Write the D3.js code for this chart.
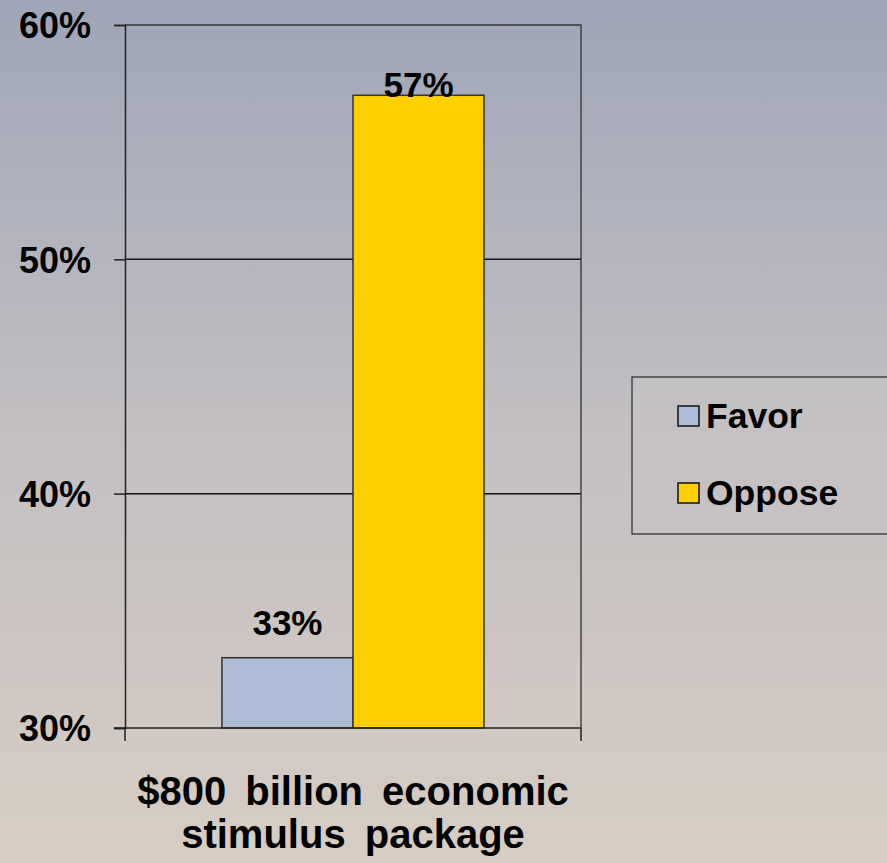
<!DOCTYPE html>
<html>
<head>
<meta charset="utf-8">
<script src="https://cdn.jsdelivr.net/npm/d3@7"></script>
<style>
  html, body { margin: 0; padding: 0; }
  body { width: 887px; height: 863px; overflow: hidden; }
  svg { display: block; font-family: "Liberation Sans", Arial, sans-serif; }
</style>
</head>
<body>
<svg id="chart" width="887" height="863"></svg>
<script>
// Poll results: share favoring / opposing the stimulus package
const categories = ["$800 billion economic stimulus package"];
const seriesNames = ["Favor", "Oppose"];
const favorValues = [33];
const opposeValues = [57];
const seriesColors = ["#adbcd7", "#ffd000"];
const yTicks = [30, 40, 50, 60];
const categoryLines = ["$800 billion economic", "stimulus package"];

const svg = d3.select("#chart");
const W = 887, H = 863;

// Background gradient: cool gray-blue at the top, warm beige at the bottom
const defs = svg.append("defs");
const grad = defs.append("linearGradient")
  .attr("id", "bg").attr("x1", 0).attr("y1", 0).attr("x2", 0).attr("y2", 1);
grad.append("stop").attr("offset", "0%").attr("stop-color", "#9ea5b8");
grad.append("stop").attr("offset", "50%").attr("stop-color", "#c3bfc2");
grad.append("stop").attr("offset", "100%").attr("stop-color", "#d7cdc3");
svg.append("rect").attr("width", W).attr("height", H).attr("fill", "url(#bg)");

const plot = { left: 125, right: 581, top: 25, bottom: 728 };

const y = d3.scaleLinear().domain([30, 60]).range([plot.bottom, plot.top]);
const x = d3.scaleBand().domain(categories).range([plot.left, plot.right]).paddingInner(0).paddingOuter(0);
const xs = d3.scaleBand().domain(seriesNames).range([0, x.bandwidth()]).paddingInner(0).paddingOuter(0.74);

const g = svg.append("g");

// Horizontal gridlines
g.selectAll("line.grid").data(yTicks.filter(t => t > 30 && t < 60)).join("line")
  .attr("class", "grid")
  .attr("x1", plot.left).attr("x2", plot.right)
  .attr("y1", d => y(d)).attr("y2", d => y(d))
  .attr("stroke", "#111").attr("stroke-width", 1.5);

// Plot frame (top and right edges)
g.append("path")
  .attr("d", `M${plot.left},${plot.top}H${plot.right}V${plot.bottom}`)
  .attr("fill", "none").attr("stroke", "#333").attr("stroke-width", 1.3);

// Bars with value labels; a label never rises above a fixed line under the frame top
const labelCeiling = plot.top + 72;
const rows = categories.map((c, i) => ({ cat: c, vals: [favorValues[i], opposeValues[i]] }));
rows.forEach(r => {
  r.vals.forEach((v, j) => {
    const bx = x(r.cat) + xs(seriesNames[j]);
    g.append("rect")
      .attr("x", bx).attr("y", y(v))
      .attr("width", xs.bandwidth()).attr("height", y(30) - y(v))
      .attr("fill", seriesColors[j])
      .attr("stroke", "#333").attr("stroke-width", 1.5);
    g.append("text")
      .attr("x", bx + xs.bandwidth() / 2).attr("y", Math.max(y(v) - 23, labelCeiling))
      .attr("text-anchor", "middle")
      .attr("font-size", 35).attr("font-weight", "bold").attr("fill", "#000")
      .text(v + "%");
  });
});

// Y axis
const yAxis = d3.axisLeft(y).tickValues(yTicks).tickFormat(d => d + "%").tickSize(11).tickPadding(22);
const ya = svg.append("g").attr("transform", `translate(${plot.left},0)`).call(yAxis);
ya.select(".domain").attr("stroke", "#222").attr("stroke-width", 1.5);
ya.selectAll(".tick line").attr("stroke", "#222").attr("stroke-width", 1.5);
ya.selectAll(".tick text")
  .attr("font-size", 36).attr("font-weight", "bold").attr("fill", "#000")
  .attr("font-family", "'Liberation Sans', Arial, sans-serif")
  .attr("text-anchor", "end").attr("x", -34).attr("dy", "0.36em");

// X axis baseline with boundary ticks
const xa = svg.append("g");
xa.append("line")
  .attr("x1", plot.left - 11).attr("x2", plot.right)
  .attr("y1", plot.bottom).attr("y2", plot.bottom)
  .attr("stroke", "#222").attr("stroke-width", 1.5);
[x(categories[0]), x(categories[0]) + x.bandwidth()].forEach(px => {
  xa.append("line")
    .attr("x1", px).attr("x2", px)
    .attr("y1", plot.bottom).attr("y2", plot.bottom + 13)
    .attr("stroke", "#222").attr("stroke-width", 1.5);
});

// Category label (two lines)
const cx = x(categories[0]) + x.bandwidth() / 2;
const catText = svg.append("text")
  .attr("x", cx).attr("y", 805)
  .attr("text-anchor", "middle")
  .attr("font-size", 40).attr("font-weight", "bold").attr("fill", "#000")
  .attr("word-spacing", 8);
catText.selectAll("tspan").data(categoryLines).join("tspan")
  .attr("x", cx).attr("dy", (d, i) => i === 0 ? 0 : 43)
  .text(d => d);

// Legend
const lg = svg.append("g").attr("transform", "translate(632,377)");
lg.append("rect").attr("width", 262).attr("height", 157)
  .attr("fill", "#c7c3c4").attr("fill-opacity", 0.6)
  .attr("stroke", "#333").attr("stroke-width", 1.3);
seriesNames.forEach((n, i) => {
  const base = 51 + i * 77;
  lg.append("rect").attr("x", 46).attr("y", base - 22).attr("width", 21).attr("height", 20)
    .attr("fill", seriesColors[i]).attr("stroke", "#111").attr("stroke-width", 1.5);
  lg.append("text").attr("x", 74).attr("y", base)
    .attr("font-size", 35.5).attr("font-weight", "bold").attr("fill", "#000")
    .text(n);
});
</script>
</body>
</html>
